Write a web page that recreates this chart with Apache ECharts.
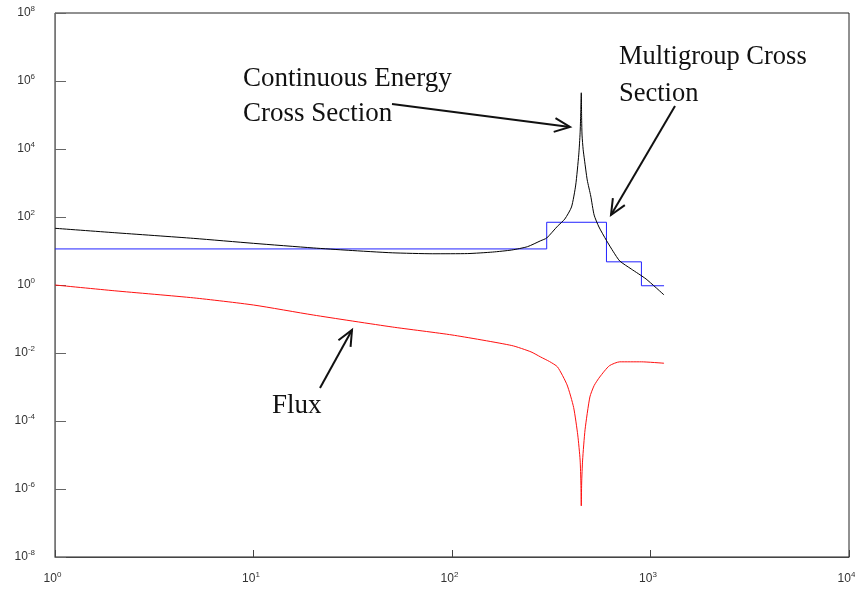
<!DOCTYPE html>
<html>
<head>
<meta charset="utf-8">
<script src="https://cdn.jsdelivr.net/npm/echarts@6/dist/echarts.min.js"></script>
<style>
  html, body { margin: 0; padding: 0; background: #fff; }
  #chart { width: 855px; height: 594px; }
</style>
</head>
<body>
<div id="chart"></div>
<script>
// continuous energy cross section (black)
var energyCE = [1, 2, 5, 10, 20, 30, 50, 80, 120, 160, 200, 240, 280, 300, 340, 370, 400, 420, 435, 442, 445, 448,
  450, 452, 458, 465, 480, 500, 520, 550, 600, 650, 700, 800, 950, 1170];
var sigmaCE = [46.5, 34.5, 23.5, 16.8, 12.3, 10.5, 8.85, 8.3, 8.4, 9.3, 10.7, 13.4, 20.1, 24.1, 53.6, 87, 197, 871, 6700, 30000, 100000, 450000,
  70000, 25700, 9500, 4760, 1230, 414, 114, 50.8, 20.4, 9.5, 5.08, 2.95, 1.5, 0.51];

// flux (red)
var energyFlux = [1, 2, 5, 10, 20, 50, 100, 200, 250, 280, 310, 340, 380, 410, 430, 442, 446, 448, 450, 455, 468, 495, 520, 555, 620, 700, 900, 1170];
var flux = [1.0, 0.675, 0.418, 0.258, 0.131, 0.0582, 0.0339, 0.0166, 0.0108, 0.0076, 0.0056, 0.0039, 0.00115, 2.5e-4, 3.9e-5, 7.1e-6, 1.5e-6, 3.2e-7,
  1.5e-6, 7.1e-6, 5.5e-5, 5.1e-4, 0.0011, 0.00197, 0.0042, 0.0055, 0.0055, 0.005];

// multigroup cross section (blue)
var groupEdges = [1, 300, 600, 900, 1170];
var groupSigma = [11.5, 70, 4.8, 0.95];

function zip(xs, ys) {
  var out = [];
  for (var i = 0; i < xs.length; i++) out.push([xs[i], ys[i]]);
  return out;
}

var groupData = [];
for (var i = 0; i < groupEdges.length; i++) {
  groupData.push([groupEdges[i], groupSigma[Math.min(i, groupSigma.length - 1)]]);
}

function powLabel(v) {
  var e = Math.round(Math.log10(v));
  return '{b|10}{s|' + e + '}';
}

var labelRich = {
  b: { fontSize: 12, fontFamily: 'Liberation Sans', color: '#333' },
  s: { fontSize: 8, fontFamily: 'Liberation Sans', color: '#333', padding: [0, 0, 8, 0] }
};

var serif = 'Liberation Serif';

function arrow(x1, y1, x2, y2) {
  var ang = Math.atan2(y2 - y1, x2 - x1);
  var len = 17, spread = 0.42;
  var a1 = ang + Math.PI - spread, a2 = ang + Math.PI + spread;
  var style = { stroke: '#111', lineWidth: 2, fill: null };
  return {
    type: 'group',
    children: [
      { type: 'line', shape: { x1: x1, y1: y1, x2: x2, y2: y2 }, style: style },
      { type: 'polyline', shape: { points: [
        [x2 + len * Math.cos(a1), y2 + len * Math.sin(a1)], [x2, y2],
        [x2 + len * Math.cos(a2), y2 + len * Math.sin(a2)]] }, style: style }
    ]
  };
}

var chart = echarts.init(document.getElementById('chart'));

var option = {
  backgroundColor: '#fff',
  animation: false,
  grid: {
    left: 55, right: 6, top: 13, bottom: 37,
    containLabel: false,
    outerBoundsMode: 'none',
    show: true, borderColor: '#222', borderWidth: 1, backgroundColor: 'transparent'
  },
  xAxis: {
    type: 'log',
    min: 1, max: 10000,
    interval: 1,
    logBase: 10,
    axisLine: { lineStyle: { color: '#444', width: 1 } },
    axisTick: { inside: true, length: 7, lineStyle: { color: '#444' } },
    splitLine: { show: false },
    minorTick: { show: false },
    axisLabel: { margin: 14, padding: [0, 5, 0, 0], formatter: powLabel, rich: labelRich }
  },
  yAxis: {
    type: 'log',
    min: 1e-8, max: 1e8,
    interval: 2,
    logBase: 10,
    axisLine: { lineStyle: { color: '#777', width: 1 } },
    axisTick: { inside: true, length: 11, lineStyle: { color: '#666' } },
    splitLine: { show: false },
    axisLabel: { margin: 20, formatter: powLabel, rich: labelRich }
  },
  series: [
    {
      name: 'Continuous Energy Cross Section',
      type: 'line',
      data: zip(energyCE, sigmaCE),
      showSymbol: false,
      smooth: 0.2,
      lineStyle: { color: '#000', width: 1 },
      z: 3
    },
    {
      name: 'Multigroup Cross Section',
      type: 'line',
      step: 'end',
      data: groupData,
      showSymbol: false,
      lineStyle: { color: '#2222ff', width: 1 },
      z: 2
    },
    {
      name: 'Flux',
      type: 'line',
      data: zip(energyFlux, flux),
      showSymbol: false,
      smooth: 0.2,
      lineStyle: { color: '#ff1010', width: 1 },
      z: 2
    }
  ],
  graphic: [
    { type: 'text', left: 243, top: 61, style: { text: 'Continuous Energy\nCross Section', font: '27px ' + serif, fill: '#111', lineHeight: 35 } },
    { type: 'text', left: 619, top: 39, style: { text: 'Multigroup Cross\nSection', font: '26.5px ' + serif, fill: '#111', lineHeight: 37 } },
    { type: 'text', left: 272, top: 392, style: { text: 'Flux', font: '27px ' + serif, fill: '#111' } },
    arrow(392, 104, 570, 127),
    arrow(675, 106, 611, 215),
    arrow(320, 388, 352, 330)
  ]
};

chart.setOption(option);
</script>
</body>
</html>
